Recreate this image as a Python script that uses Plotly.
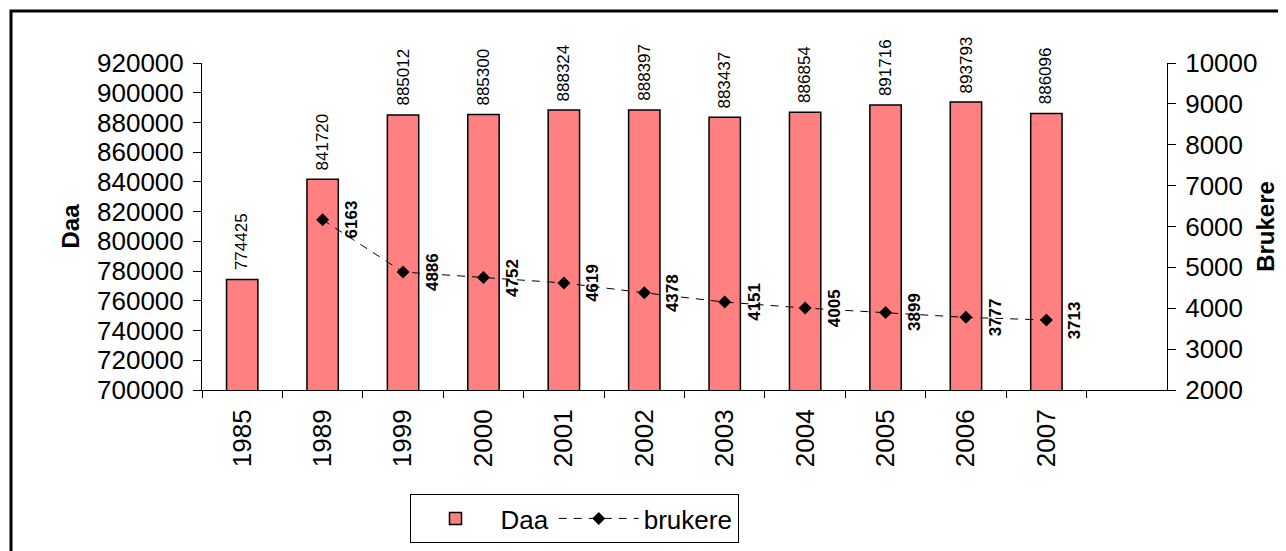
import plotly.graph_objects as go

years = ["1985", "1989", "1999", "2000", "2001", "2002", "2003", "2004", "2005", "2006", "2007"]
daa = [774425, 841720, 885012, 885300, 888324, 888397, 883437, 886854, 891716, 893793, 886096]
brukere_years = ["1989", "1999", "2000", "2001", "2002", "2003", "2004", "2005", "2006", "2007"]
brukere = [6163, 4886, 4752, 4619, 4378, 4151, 4005, 3899, 3777, 3713]

FONT = "Liberation Sans, Arial, sans-serif"
OFF = 8  # page body margin
W, H = 1286 - OFF, 551 - OFF
L, T = 202 - OFF, 63 - OFF
pw, ph = 965, 327
R, B = W - L - pw, H - T - ph

fig = go.Figure()
fig.add_trace(go.Bar(
    x=years, y=daa, name="Daa", width=0.39,
    marker=dict(color="#FF8080", line=dict(color="black", width=1.5)),
))
fig.add_trace(go.Scatter(
    x=brukere_years, y=brukere, name="brukere", yaxis="y2", mode="lines+markers",
    line=dict(color="black", width=1, dash="8px,7px"),
    marker=dict(symbol="diamond", size=10, color="black"),
))

for x, v in zip(years, daa):
    fig.add_annotation(x=years.index(x), y=v, xref="x", yref="y", text=str(v), showarrow=False,
                       textangle=-90, yanchor="bottom", xanchor="center", yshift=7,
                       font=dict(family=FONT, size=17, color="black"))
for x, v in zip(brukere_years, brukere):
    fig.add_annotation(x=years.index(x), y=v, xref="x", yref="y2", text="<b>%d</b>" % v, showarrow=False,
                       textangle=-90, yanchor="middle", xanchor="center", xshift=29,
                       font=dict(family=FONT, size=17, color="black"))

# outer frame
fig.add_shape(type="rect", xref="paper", yref="paper",
              x0=(11 - OFF - L) / pw, x1=(W + 20 - L) / pw,
              y0=-(B + 20) / ph, y1=1 + (T - (11 - OFF)) / ph,
              line=dict(color="black", width=3), layer="below")

fig.update_layout(
    width=W, height=H,
    margin=dict(l=L, r=R, t=T, b=B, autoexpand=False),
    paper_bgcolor="white", plot_bgcolor="white",
    font=dict(family=FONT, size=26, color="black"),
    showlegend=True,
    legend=dict(orientation="h", xref="container", yref="container",
                x=(574 - OFF) / W, y=1 - (494 - OFF) / H, xanchor="center", yanchor="top",
                bordercolor="black", borderwidth=1, font=dict(size=26),
                itemwidth=80),
    bargap=0.6,
    xaxis=dict(type="category", categoryorder="array", categoryarray=years,
               range=[-0.5, 11.5], tickson="boundaries", ticks="outside", ticklen=7,
               tickcolor="black", showline=True, linecolor="black", linewidth=1,
               tickangle=-90, tickfont=dict(size=26), ticklabelstandoff=8,
               showgrid=False, zeroline=False),
    yaxis=dict(range=[700000, 920000], dtick=20000, tickformat="d",
               ticks="outside", ticklen=8, tickcolor="black", ticklabelstandoff=4,
               showline=True, linecolor="black", linewidth=1, showgrid=False, zeroline=False,
               tickfont=dict(size=26),
               title=dict(text="<b>Daa</b>", font=dict(size=24), standoff=10)),
    yaxis2=dict(range=[2000, 10000], dtick=1000, tickformat="d", overlaying="y", side="right",
                ticks="outside", ticklen=8, tickcolor="black", ticklabelstandoff=4,
                showline=True, linecolor="black", linewidth=1, showgrid=False, zeroline=False,
                tickfont=dict(size=26),
                title=dict(text="<b>Brukere</b>", font=dict(size=24), standoff=0)),
)
fig.write_html("out.html")
